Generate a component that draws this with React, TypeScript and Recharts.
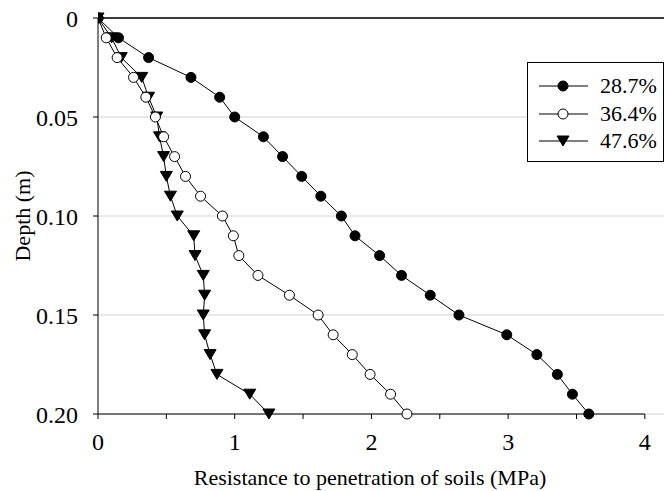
import {
  LineChart,
  Line,
  XAxis,
  YAxis,
  CartesianGrid,
  ReferenceLine,
} from "recharts";

const depths = [
  0, 0.01, 0.02, 0.03, 0.04, 0.05, 0.06, 0.07, 0.08, 0.09, 0.1, 0.11, 0.12, 0.13,
  0.14, 0.15, 0.16, 0.17, 0.18, 0.19, 0.2,
];
const moist287 = [
  0, 0.15, 0.37, 0.68, 0.89, 1.0, 1.21, 1.35, 1.49, 1.63, 1.78, 1.88, 2.06, 2.22,
  2.43, 2.64, 2.99, 3.21, 3.36, 3.47, 3.59,
];
const moist364 = [
  0, 0.06, 0.14, 0.26, 0.35, 0.42, 0.48, 0.56, 0.64, 0.75, 0.91, 0.99, 1.03, 1.17,
  1.4, 1.61, 1.72, 1.86, 1.99, 2.14, 2.26,
];
const moist476 = [
  0, 0.1, 0.17, 0.32, 0.37, 0.43, 0.45, 0.48, 0.5, 0.53, 0.58, 0.7, 0.71, 0.77,
  0.78, 0.77, 0.78, 0.82, 0.87, 1.11, 1.25,
];
const seriesNames = ["28.7%", "36.4%", "47.6%"];
const xTicks = [0, 0.5, 1, 1.5, 2, 2.5, 3, 3.5, 4];
const yTicks = [0, 0.05, 0.1, 0.15, 0.2];

const data = depths.map((d, i) => ({
  depth: d,
  a: moist287[i],
  b: moist364[i],
  c: moist476[i],
}));

const font = "'Liberation Serif', 'DejaVu Serif', serif";

function Marker({ kind, cx, cy }: { kind: number; cx: number; cy: number }) {
  if (kind === 0) return <circle cx={cx} cy={cy} r={5} fill="#000" stroke="#000" />;
  if (kind === 1) return <circle cx={cx} cy={cy} r={5} fill="#fff" stroke="#000" />;
  return (
    <path
      d={`M${cx - 6},${cy - 5}L${cx + 6},${cy - 5}L${cx},${cy + 5}Z`}
      fill="#000"
      stroke="#000"
    />
  );
}

const dotFor = (kind: number) => (p: any) =>
  <Marker key={`${kind}-${p.index}`} kind={kind} cx={p.cx} cy={p.cy} />;

// legend drawn as an overlay so it doesn't shrink the plot area
function LegendBox() {
  return (
    <div
      style={{
        position: "absolute",
        left: 527,
        top: 62,
        width: 135,
        height: 98,
        border: "1px solid #000",
        background: "#fff",
      }}
    >
      {seriesNames.map((name, i) => (
        <div
          key={name}
          style={{
            position: "absolute",
            left: 10,
            top: 9 + i * 27.5,
            height: 28,
            display: "flex",
            alignItems: "center",
          }}
        >
          <svg width={52} height={28}>
            <line x1={1} x2={50} y1={14} y2={14} stroke="#000" />
            <Marker kind={i} cx={25} cy={14} />
          </svg>
          <span style={{ marginLeft: 10, fontSize: 22, fontFamily: font, color: "#000" }}>
            {name}
          </span>
        </div>
      ))}
    </div>
  );
}

const tickStyle = { fontSize: 24, fill: "#000", fontFamily: font };

export default function App() {
  return (
    <div
      style={{
        position: "absolute",
        left: 0,
        top: 0,
        width: 664,
        height: 491,
        background: "#fff",
        fontFamily: font,
      }}
    >
      <LineChart
        width={664}
        height={491}
        data={data}
        layout="vertical"
        margin={{ top: 18, right: 0, bottom: 0, left: 0 }}
      >
        <CartesianGrid vertical={false} stroke="#d4d4d4" />
        <XAxis
          type="number"
          domain={[0, 4.14]}
          allowDataOverflow
          ticks={xTicks}
          interval={0}
          tickFormatter={(v) => (Number.isInteger(v) ? String(v) : "")}
          axisLine={false}
          tickLine={{ stroke: "#000" }}
          tickSize={5}
          tickMargin={14}
          height={77}
          tick={tickStyle}
          label={{
            value: "Resistance to penetration of soils (MPa)",
            position: "insideBottom",
            offset: 6,
            dx: -11,
            fontSize: 22,
            fill: "#000",
            fontFamily: font,
          }}
        />
        <YAxis
          type="number"
          dataKey="depth"
          domain={[0, 0.2]}
          ticks={yTicks}
          interval={0}
          tickFormatter={(v) => (v === 0 ? "0" : v.toFixed(2))}
          axisLine={{ stroke: "#000" }}
          tickLine={{ stroke: "#000" }}
          tickSize={5}
          tickMargin={10}
          width={98}
          tick={{ ...tickStyle, dx: -5 }}
          label={{
            value: "Depth (m)",
            angle: -90,
            position: "insideLeft",
            offset: 22,
            fontSize: 22,
            fill: "#000",
            fontFamily: font,
            style: { textAnchor: "middle" },
          }}
        />
        <ReferenceLine y={0} stroke="#000" strokeWidth={1.5} />
        <ReferenceLine
          segment={[
            { x: 0, y: 0.2 },
            { x: 4, y: 0.2 },
          ]}
          stroke="#000"
        />
        <Line
          dataKey="c"
          name={seriesNames[2]}
          stroke="#000"
          strokeWidth={1}
          dot={dotFor(2)}
          isAnimationActive={false}
        />
        <Line
          dataKey="b"
          name={seriesNames[1]}
          stroke="#000"
          strokeWidth={1}
          dot={dotFor(1)}
          isAnimationActive={false}
        />
        <Line
          dataKey="a"
          name={seriesNames[0]}
          stroke="#000"
          strokeWidth={1}
          dot={dotFor(0)}
          isAnimationActive={false}
        />
      </LineChart>
      <LegendBox />
    </div>
  );
}
